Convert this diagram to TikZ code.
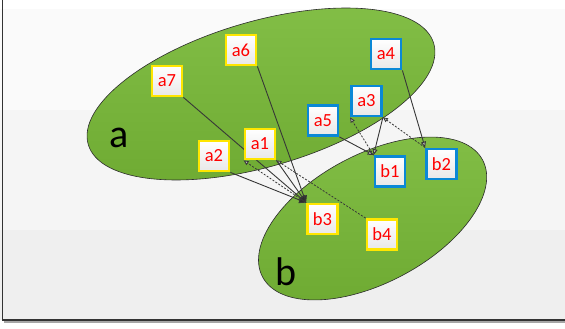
\documentclass[tikz,border=0pt]{standalone}
\usepackage{fontspec}
\setmainfont{Carlito}
\usetikzlibrary{arrows.meta}
\definecolor{ygold}{RGB}{255,230,0}
\definecolor{bblue}{RGB}{10,136,214}
\definecolor{gtop}{RGB}{130,190,70}
\definecolor{gbot}{RGB}{110,170,50}
\definecolor{edgecol}{RGB}{55,55,55}
\definecolor{bandA}{RGB}{250,250,250}
\definecolor{bandB}{RGB}{245,245,245}
\definecolor{bandC}{RGB}{239,239,239}
\pgfdeclarelayer{bg}
\pgfdeclarelayer{edges}
\pgfsetlayers{bg,edges,main}
\tikzset{
  boxbase/.style={rectangle, minimum size=30pt, inner sep=0pt, line width=2.8pt,
    top color=white, bottom color=gray!18, text=red,
    font=\fontsize{18.5}{18.5}\selectfont},
  ybox/.style={boxbase, draw=ygold},
  bbox/.style={boxbase, draw=bblue},
  setlabel/.style={font=\fontsize{40}{40}\selectfont, text=black, inner sep=0pt},
  blob/.style={draw=edgecol!80!black, line width=0.6pt, top color=gtop, bottom color=gbot},
  hubline/.style={draw=edgecol, line width=0.9pt, -{Triangle[length=7pt,width=6.5pt,fill=edgecol!80!black]}},
  solidline/.style={draw=edgecol, line width=0.9pt, -{Triangle[length=6pt,width=5pt,fill=gray!60]}},
  dotline/.style={draw=edgecol, line width=0.8pt, dash pattern=on 2pt off 1.5pt,
    -{Triangle[length=5pt,width=4.5pt,fill=gray!50]}}
}
\begin{document}
\begin{tikzpicture}[x=1pt,y=-1pt]
\useasboundingbox (0,0) rectangle (565,329);
\begin{pgfonlayer}{bg}
  \fill[white] (0,0) rectangle (565,329);
  \fill[bandA] (0,9) rectangle (565,110);
  \fill[bandB] (0,110) rectangle (565,230);
  \fill[bandC] (0,230) rectangle (565,320);
  \draw[gray!70, line width=2pt] (4,322) -- (565,322);
  \draw[gray!40!black, line width=1.4pt] (2.5,0) -- (2.5,320) -- (565,320);
  \path[blob, rotate around={16.3:(261,94)}] (261,94) ellipse [x radius=180, y radius=72.5];
  \path[blob, rotate around={28:(372.6,218.5)}] (372.6,218.5) ellipse [x radius=124.6, y radius=64.2];
\end{pgfonlayer}

\node[setlabel] (la) at (119.5,137.5) {a};
\node[setlabel] (lb) at (286.5,271.5) {b};

\node[ybox] (a7) at (167,81) {a7};
\node[ybox] (a6) at (241,50) {a6};
\node[ybox] (a1) at (260,144) {a1};
\node[ybox] (a2) at (214,156) {a2};
\node[bbox] (a4) at (386,54) {a4};
\node[bbox] (a3) at (366.5,101) {a3};
\node[bbox] (a5) at (323,120.5) {a5};
\node[bbox] (b1) at (390,171.5) {b1};
\node[bbox] (b2) at (441.5,164) {b2};
\node[ybox] (b3) at (322.5,219) {b3};
\node[ybox] (b4) at (382,234.5) {b4};

\begin{pgfonlayer}{edges}
  \draw[hubline] (a7.south east) -- (b3.north west);
  \draw[hubline] (a6.south east) -- (b3.north west);
  \draw[hubline] (a2.south east) -- (b3.north west);
  \draw[hubline] (a1.south east) -- (b3.north west);
  \draw[dotline] (b3.north west) -- (a1.south west);
  \draw[dotline] (b4.north west) -- (a1.south east);
  \draw[solidline] (a5.south east) -- (b1.north west);
  \draw[solidline] (a3.south east) -- (b1.north west);
  \draw[dotline] (b1.north west) -- (a3.south west);
  \draw[dotline] (b2.north west) -- (a3.south east);
  \draw[solidline] (a4.south east) -- (b2.north west);
\end{pgfonlayer}
\end{tikzpicture}
\end{document}
